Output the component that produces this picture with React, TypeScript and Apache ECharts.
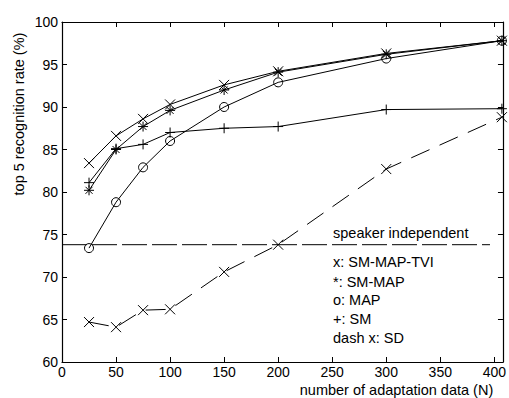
import React, { useEffect, useRef } from "react";
import * as echarts from "echarts";

const xValues = [25, 50, 75, 100, 150, 200, 300, 407];
const smMapTvi = [83.4, 86.6, 88.6, 90.3, 92.6, 94.2, 96.3, 97.8];
const smMap = [80.2, 85.0, 87.7, 89.6, 92.0, 94.1, 96.2, 97.8];
const mapVals = [73.4, 78.8, 82.9, 86.0, 90.0, 92.9, 95.7, 97.8];
const smVals = [81.1, 85.1, 85.6, 87.0, 87.5, 87.7, 89.7, 89.8];
const sdVals = [64.7, 64.1, 66.1, 66.2, 70.6, 73.8, 82.7, 88.8];
const speakerIndependent = 73.8;
const siRange = [0, 396];
const legendLines = ["x: SM-MAP-TVI", "*: SM-MAP", "o: MAP", "+: SM", "dash x: SD"];

const FONT = "'Liberation Sans', Arial, Helvetica, sans-serif";
const CROSS = "path://M0,0L10,10M10,0L0,10";
const PLUS = "path://M5,0L5,10M0,5L10,5";
const STAR = "path://M5,0L5,10M0,5L10,5M1.5,1.5L8.5,8.5M8.5,1.5L1.5,8.5";

const pairs = (ys: number[]) => xValues.map((x, i) => [x, ys[i]]);

export default function App() {
  const ref = useRef<HTMLDivElement>(null);
  useEffect(() => {
    if (!ref.current) return;
    const chart = echarts.init(ref.current, undefined, { renderer: "svg" });
    const axisCommon = {
      axisLine: { show: true, onZero: false, lineStyle: { color: "#000", width: 1.2 } },
      axisTick: { show: true, inside: true, length: 5, lineStyle: { color: "#000", width: 1 } },
      splitLine: { show: false },
    };
    const lineSeries = (name: string, ys: number[], symbol: string, size: number, dashed = false) => ({
      name,
      type: "line",
      data: pairs(ys),
      symbol,
      symbolSize: size,
      showSymbol: true,
      lineStyle: { color: "#000", width: 1, type: dashed ? [20, 11] : "solid" },
      itemStyle: { color: "rgba(0,0,0,0)", borderColor: "#000", borderWidth: 1 },
      emphasis: { disabled: true },
      z: 3,
    });
    const graphics: any[] = [
      {
        type: "text",
        x: 19,
        y: 114,
        rotation: Math.PI / 2,
        style: {
          text: "top 5 recognition rate (%)",
          font: `14.5px ${FONT}`,
          fill: "#000",
          align: "center",
          verticalAlign: "middle",
        },
      },
      {
        type: "text",
        x: 396.5,
        y: 389.5,
        style: {
          text: "number of adaptation data (N)",
          font: `14.5px ${FONT}`,
          fill: "#000",
          align: "center",
          verticalAlign: "middle",
        },
      },
      {
        type: "text",
        x: 333,
        y: 232.7,
        style: {
          text: "speaker independent",
          font: `14.5px ${FONT}`,
          fill: "#000",
          align: "left",
          verticalAlign: "middle",
        },
        z: 10,
      },
    ];
    const legendY = [262.3, 281.5, 300.3, 319.2, 338.2];
    legendLines.forEach((t, i) => {
      graphics.push({
        type: "text",
        x: 333,
        y: legendY[i],
        style: {
          text: t,
          font: `14.5px ${FONT}`,
          fill: "#000",
          align: "left",
          verticalAlign: "middle",
        },
        z: 10,
      });
    });
    chart.setOption({
      animation: false,
      backgroundColor: "#fff",
      textStyle: { fontFamily: FONT },
      grid: { left: 62, top: 22, right: 3.5, bottom: 36, containLabel: false },
      xAxis: [
        {
          type: "value",
          min: 0,
          max: 408,
          interval: 50,
          position: "bottom",
          ...axisCommon,
          axisLabel: {
            color: "#000",
            fontSize: 14,
            fontFamily: FONT,
            margin: 3,
            showMaxLabel: false,
            formatter: (v: number) => (v % 50 === 0 ? String(v) : ""),
          },
        },
        {
          type: "value",
          min: 0,
          max: 408,
          interval: 50,
          position: "top",
          ...axisCommon,
          axisLabel: { show: false },
        },
      ],
      yAxis: [
        {
          type: "value",
          min: 60,
          max: 100,
          interval: 5,
          position: "left",
          ...axisCommon,
          axisLabel: { color: "#000", fontSize: 14, fontFamily: FONT, margin: 4 },
        },
        {
          type: "value",
          min: 60,
          max: 100,
          interval: 5,
          position: "right",
          ...axisCommon,
          axisLabel: { show: false },
        },
      ],
      series: [
        lineSeries("SM-MAP-TVI", smMapTvi, CROSS, 10),
        lineSeries("SM-MAP", smMap, STAR, 10),
        lineSeries("MAP", mapVals, "circle", 9),
        lineSeries("SM", smVals, PLUS, 10),
        lineSeries("SD", sdVals, CROSS, 10, true),
        {
          name: "speaker independent",
          type: "line",
          data: siRange.map((x) => [x, speakerIndependent]),
          symbol: "none",
          lineStyle: { color: "#000", width: 1, type: [25, 5] },
          emphasis: { disabled: true },
          z: 2,
        },
      ],
      graphic: graphics,
    });
    return () => chart.dispose();
  }, []);
  return <div ref={ref} style={{ width: 509, height: 398, position: "absolute", left: 0, top: 0 }} />;
}
